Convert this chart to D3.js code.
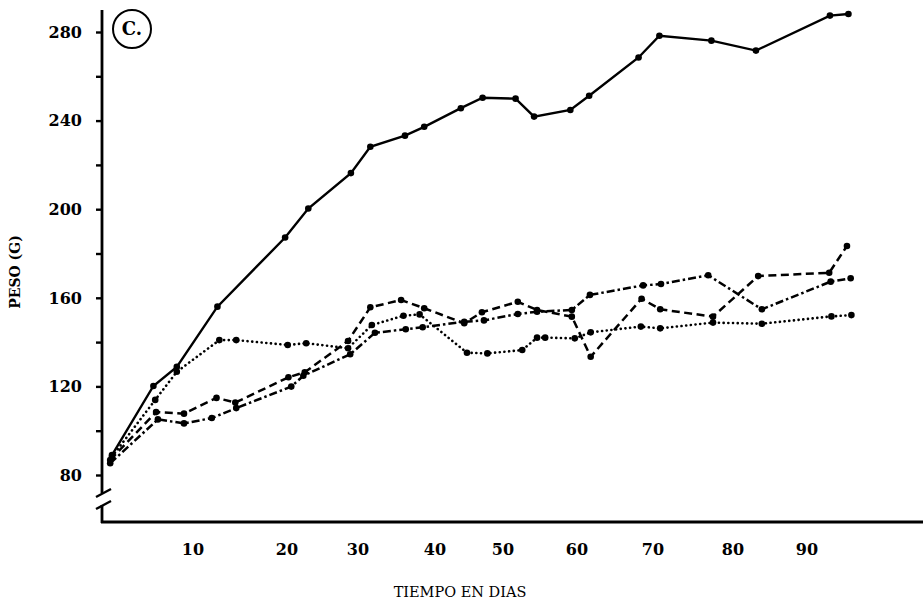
<!DOCTYPE html>
<html>
<head>
<meta charset="utf-8">
<script src="https://cdn.jsdelivr.net/npm/d3@7"></script>
<style>
  body { margin: 0; background: #fff; }
  svg { display: block; }
  text { font-family: "DejaVu Serif", "Liberation Serif", serif; fill: #000; }
</style>
</head>
<body>
<div id="chart"></div>
<script>
var W = 923, H = 603;

// x tick labels (days) and y tick values (grams)
var xTicks = [10, 20, 30, 40, 50, 60, 70, 80, 90];
var yTicks = [80, 100, 120, 140, 160, 180, 200, 220, 240, 260, 280];
var yLabels = [80, 120, 160, 200, 240, 280];

// Series: days and weights (g)
var solidDays = [1, 5.6, 8.2, 12.6, 19.8, 23.0, 29.0, 31.6, 36.1, 38.6, 43.8, 47.0, 51.7, 54.2, 59.1, 61.6, 68.1, 70.8, 77.3, 83.1, 93.1, 95.6];
var solidVals = [89.0, 120.2, 128.8, 156.0, 187.2, 200.3, 216.3, 228.2, 233.2, 237.2, 245.6, 250.3, 249.9, 241.8, 244.8, 251.2, 268.5, 278.3, 276.1, 271.6, 287.4, 288.1];

var dottedDays = [1, 5.8, 8.2, 12.8, 14.6, 20.1, 22.7, 28.6, 31.8, 35.9, 38.0, 44.7, 47.7, 52.6, 54.6, 55.7, 59.7, 61.8, 68.4, 70.9, 77.5, 83.9, 93.3, 96.0];
var dottedVals = [88.3, 113.9, 126.6, 140.9, 140.9, 138.7, 139.5, 137.2, 147.7, 151.9, 152.5, 135.2, 134.9, 136.4, 142.0, 142.0, 141.7, 144.4, 147.0, 146.2, 148.8, 148.3, 151.6, 152.2];

var dashedDays = [0.8, 5.9, 9.0, 12.5, 14.5, 20.2, 22.5, 28.6, 31.6, 35.6, 38.6, 44.3, 46.9, 52.0, 54.6, 59.3, 61.8, 68.5, 70.9, 77.5, 83.4, 93.0, 95.4];
var dashedVals = [86.8, 108.4, 107.7, 114.8, 112.7, 124.1, 126.4, 140.5, 155.7, 159.0, 155.3, 148.5, 153.5, 158.2, 154.5, 151.5, 133.4, 159.6, 154.8, 151.5, 169.8, 171.3, 183.4];

var dashDotDays = [0.8, 6.1, 9.0, 12.0, 14.6, 20.6, 22.3, 28.9, 32.2, 36.2, 38.4, 44.3, 47.2, 52.0, 54.6, 59.3, 61.7, 68.7, 71.0, 76.9, 83.9, 93.2, 95.9];
var dashDotVals = [85.3, 105.1, 103.3, 105.7, 110.2, 119.9, 124.8, 134.5, 144.2, 145.8, 146.7, 149.2, 149.8, 152.7, 153.7, 154.5, 161.3, 165.6, 166.2, 170.2, 154.8, 167.3, 168.8];

var series = [
  { days: dottedDays, vals: dottedVals, dash: "0.1,4.6", cap: "round", width: 2.6 },
  { days: dashDotDays, vals: dashDotVals, dash: "8,3,2.5,3", cap: "butt", width: 2.5 },
  { days: dashedDays, vals: dashedVals, dash: "8,4.5", cap: "butt", width: 2.5 },
  { days: solidDays, vals: solidVals, dash: null, cap: "butt", width: 2.4 }
];

var svg = d3.select("#chart").append("svg")
  .attr("width", W)
  .attr("height", H);

var axisX = 102, axisY = 522;

// day scale follows the printed label positions
var x = d3.scaleLinear()
  .domain([0, 10, 20, 30, 40, 50, 60, 70, 80, 90])
  .range([103, 193, 287, 358, 435, 503, 577, 653, 733, 807]);

var y = d3.scaleLinear()
  .domain([80, 280])
  .range([475, 32]);

// y axis line with break
svg.append("path")
  .attr("d", "M" + axisX + ",10V493M" + axisX + ",505V" + (axisY + 1))
  .attr("stroke", "#000")
  .attr("stroke-width", 2.8)
  .attr("fill", "none");

svg.append("g")
  .selectAll("line")
  .data([0, 12])
  .enter()
  .append("line")
  .attr("x1", 96).attr("x2", 111)
  .attr("y1", function(d) { return 497 + d; })
  .attr("y2", function(d) { return 489 + d; })
  .attr("stroke", "#000")
  .attr("stroke-width", 2.4);

// x axis line
svg.append("line")
  .attr("x1", axisX - 1).attr("x2", W)
  .attr("y1", axisY).attr("y2", axisY)
  .attr("stroke", "#000")
  .attr("stroke-width", 2.8);

// y ticks
var yAxis = svg.append("g")
  .attr("transform", "translate(" + axisX + ",0)")
  .call(d3.axisLeft(y).tickValues(yTicks).tickSize(6).tickFormat(""));
yAxis.select(".domain").remove();
yAxis.selectAll("line").attr("stroke", "#000").attr("stroke-width", 2.4);

svg.append("g")
  .selectAll("text")
  .data(yLabels)
  .enter()
  .append("text")
  .attr("x", 82)
  .attr("y", function(d) { return y(d); })
  .attr("dy", "0.36em")
  .attr("text-anchor", "end")
  .attr("font-size", "16px")
  .attr("font-weight", "bold")
  .text(function(d) { return d; });

// x labels
svg.append("g")
  .selectAll("text")
  .data(xTicks)
  .enter()
  .append("text")
  .attr("x", function(d) { return x(d); })
  .attr("y", 555)
  .attr("text-anchor", "middle")
  .attr("font-size", "16px")
  .attr("font-weight", "bold")
  .text(function(d) { return d; });

// axis titles
svg.append("text")
  .attr("transform", "translate(20,272) rotate(-90)")
  .attr("text-anchor", "middle")
  .attr("font-size", "14px")
  .attr("font-weight", "bold")
  .text("PESO (G)");

svg.append("text")
  .attr("x", 460)
  .attr("y", 597)
  .attr("text-anchor", "middle")
  .attr("font-size", "14.5px")
  .text("TIEMPO EN DIAS");

// panel label
svg.append("circle")
  .attr("cx", 132).attr("cy", 29).attr("r", 19)
  .attr("fill", "none")
  .attr("stroke", "#000")
  .attr("stroke-width", 2);
svg.append("text")
  .attr("x", 132).attr("y", 29)
  .attr("dy", "0.36em")
  .attr("text-anchor", "middle")
  .attr("font-size", "18px")
  .attr("font-weight", "bold")
  .text("C.");

// lines and points
var line = d3.line()
  .x(function(d) { return x(d[0]); })
  .y(function(d) { return y(d[1]); });

series.forEach(function(s) {
  var pts = d3.zip(s.days, s.vals);
  svg.append("path")
    .datum(pts)
    .attr("d", line)
    .attr("fill", "none")
    .attr("stroke", "#000")
    .attr("stroke-width", s.width)
    .attr("stroke-linecap", s.cap)
    .attr("stroke-dasharray", s.dash);
  svg.append("g")
    .selectAll("circle")
    .data(pts)
    .enter()
    .append("circle")
    .attr("cx", function(d) { return x(d[0]); })
    .attr("cy", function(d) { return y(d[1]); })
    .attr("r", 3.3)
    .attr("fill", "#000");
});
</script>
</body>
</html>
